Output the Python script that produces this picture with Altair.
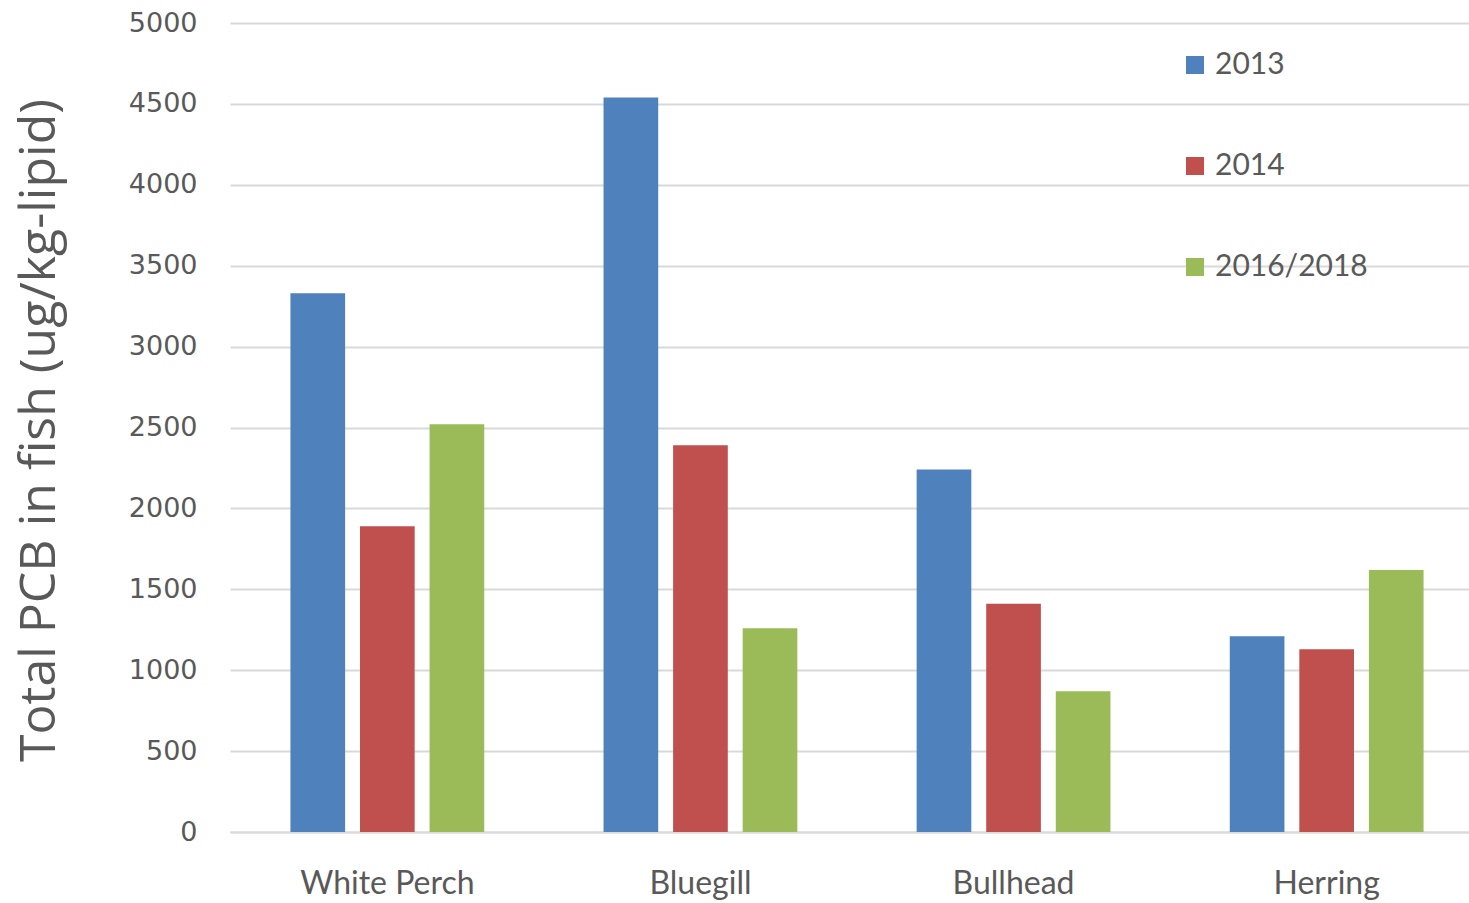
import altair as alt
import pandas as pd

species = ["White Perch", "Bluegill", "Bullhead", "Herring"]
years = ["2013", "2014", "2016/2018"]
v2013 = [3330, 4540, 2240, 1210]
v2014 = [1890, 2390, 1410, 1130]
v2016 = [2520, 1260, 870, 1620]
colors = ["#4F81BD", "#C0504D", "#9BBB59"]

rows = []
for i, s in enumerate(species):
    for y, vals in zip(years, [v2013, v2014, v2016]):
        rows.append({"Species": s, "Year": y, "PCB": vals[i]})
df = pd.DataFrame(rows)

chart = alt.Chart(df).mark_bar().encode(
    x=alt.X("Species:N", sort=species,
            scale=alt.Scale(range=[0, 1254], paddingInner=0.381, paddingOuter=0.193),
            axis=alt.Axis(title=None, labelAngle=0, labelFont="Lato", labelFontSize=32,
                          labelColor="#595959", labelPadding=36, ticks=False, grid=False,
                          domainColor="#d9d9d9", domainWidth=2)),
    xOffset=alt.XOffset("Year:N", sort=years,
                        scale=alt.Scale(paddingInner=0.214, paddingOuter=0)),
    y=alt.Y("PCB:Q", scale=alt.Scale(domain=[0, 5000]),
            axis=alt.Axis(title="Total PCB in fish (ug/kg-lipid)", values=list(range(0, 5001, 500)),
                          format="d",
                          labelFont="DejaVu Sans", labelFontSize=27, labelColor="#595959",
                          labelPadding=33, ticks=False, domain=False,
                          gridColor="#d9d9d9", gridWidth=2,
                          titleFont="Open Sans", titleFontSize=50, titleColor="#595959",
                          titleFontWeight="normal", titleX=-166, titleY=407,
                          titleAngle=-90, titleAlign="center", titleBaseline="bottom")),
    color=alt.Color("Year:N", sort=years, scale=alt.Scale(domain=years, range=colors),
                    legend=alt.Legend(title=None, orient="none", legendX=950, legendY=27,
                                      symbolType="square", symbolSize=324,
                                      symbolStrokeWidth=0, labelFont="Lato",
                                      labelFontSize=30, labelColor="#595959",
                                      rowPadding=71, padding=0, labelOffset=5)),
).properties(
    width=1239, height=809,
    autosize=alt.AutoSizeParams(type="none"),
    padding={"left": 230, "top": 23, "right": 0, "bottom": 71},
).configure(background="white").configure_view(stroke=None)

chart.save("out.html", embed_options={"renderer": "svg", "actions": False})
